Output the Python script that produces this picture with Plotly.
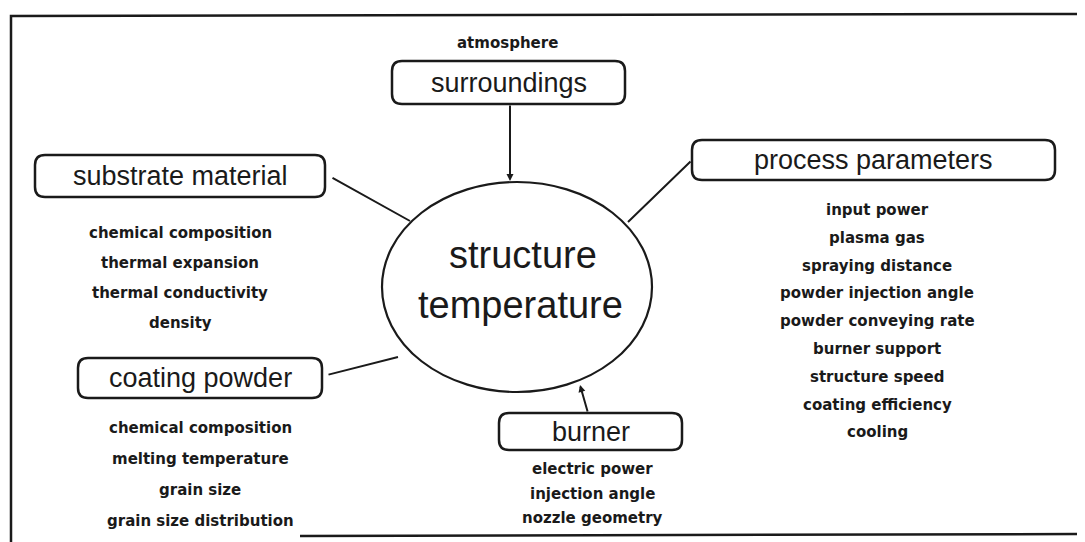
import plotly.graph_objects as go

# diagram content
center_lines = ["structure", "temperature"]
node_names = ["surroundings", "substrate material", "process parameters",
              "coating powder", "burner"]
surroundings_items = ["atmosphere"]
substrate_items = ["chemical composition", "thermal expansion",
                   "thermal conductivity", "density"]
process_items = ["input power", "plasma gas", "spraying distance",
                 "powder injection angle", "powder conveying rate",
                 "burner support", "structure speed", "coating efficiency",
                 "cooling"]
coating_items = ["chemical composition", "melting temperature",
                 "grain size", "grain size distribution"]
burner_items = ["electric power", "injection angle", "nozzle geometry"]

node_items = [surroundings_items, substrate_items, process_items,
              coating_items, burner_items]

# page geometry (pixels, y grows downward)
W, H = 1085, 542
PAD = 8  # the page body keeps an 8px margin, so the figure starts there
boxes = [(392, 61, 625, 104), (35, 155, 325, 197), (692, 140, 1055, 180),
         (78, 358, 322, 398), (499, 413, 682, 450)]
# first item position and line step for each node's list
item_pos = [(507, 43, 0), (180, 233, 30), (877, 210, 27.8),
            (200, 428, 31), (592, 469, 24.5)]
# connector lines: (tail x, tail y, head x, head y, arrowhead)
links = [(510, 104, 510, 181, True), (331, 177, 410, 221, False),
         (692, 160, 628, 222, False), (327, 375, 398, 357, False),
         (588, 413, 580, 385, True)]
ellipse = (382, 182, 652, 392)

INK = "#1a1a1a"
LABEL_FONT = dict(family="Liberation Sans, Arial, sans-serif", size=27, color=INK)
ITEM_FONT = dict(family="DejaVu Sans, sans-serif", size=15, color=INK,
                 weight="bold")


def rounded_box(x0, y0, x1, y1, r=10):
    return (f"M {x0 + r},{y0} L {x1 - r},{y0} Q {x1},{y0} {x1},{y0 + r} "
            f"L {x1},{y1 - r} Q {x1},{y1} {x1 - r},{y1} "
            f"L {x0 + r},{y1} Q {x0},{y1} {x0},{y1 - r} "
            f"L {x0},{y0 + r} Q {x0},{y0} {x0 + r},{y0} Z")


fig = go.Figure()
fig.add_trace(go.Scatter(x=[PAD, W], y=[PAD, H], mode="markers",
                         marker=dict(opacity=0), hoverinfo="skip",
                         showlegend=False))

# outer frame
fig.add_shape(type="path", path="M 11,542 L 11,16 L 1081,14 L 1081,534",
              line=dict(color=INK, width=2.5))
fig.add_shape(type="line", x0=300, y0=536, x1=1081, y1=534,
              line=dict(color=INK, width=2.5))

# centre ellipse
ex0, ey0, ex1, ey1 = ellipse
fig.add_shape(type="circle", x0=ex0, y0=ey0, x1=ex1, y1=ey1,
              line=dict(color=INK, width=2.2))
fig.add_annotation(x=(ex0 + ex1) / 2 + 6, y=ey0 + 73, text=center_lines[0],
                   showarrow=False, font=dict(LABEL_FONT, size=38))
fig.add_annotation(x=(ex0 + ex1) / 2 + 3, y=ey0 + 123, text=center_lines[1],
                   showarrow=False, font=dict(LABEL_FONT, size=38))

# boxes, labels and item lists
for name, items, (x0, y0, x1, y1), (ix, iy, step) in zip(
        node_names, node_items, boxes, item_pos):
    fig.add_shape(type="path", path=rounded_box(x0, y0, x1, y1),
                  line=dict(color=INK, width=2.5))
    fig.add_annotation(x=(x0 + x1) / 2, y=(y0 + y1) / 2, text=name,
                       showarrow=False, font=LABEL_FONT)
    for i, item in enumerate(items):
        fig.add_annotation(x=ix, y=iy + i * step, text=item,
                           showarrow=False, font=ITEM_FONT)

# connectors
for tx, ty, hx, hy, head in links:
    fig.add_annotation(x=hx, y=hy, ax=tx, ay=ty, xref="x", yref="y",
                       axref="x", ayref="y", text="", showarrow=True,
                       arrowhead=2 if head else 0, arrowsize=0.7,
                       arrowwidth=2, arrowcolor=INK)

fig.update_xaxes(range=[PAD, W], visible=False, fixedrange=True)
fig.update_yaxes(range=[H, PAD], visible=False, fixedrange=True)
fig.update_layout(width=W - PAD, height=H - PAD,
                  margin=dict(l=0, r=0, t=0, b=0),
                  plot_bgcolor="white", paper_bgcolor="white",
                  showlegend=False)

fig.write_html("out.html")
